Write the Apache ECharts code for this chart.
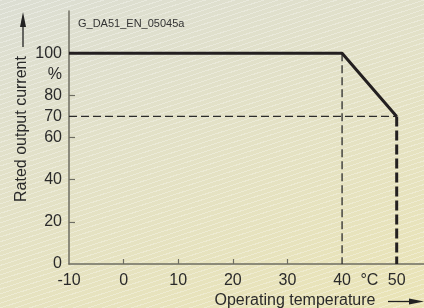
<!DOCTYPE html>
<html>
<head>
<meta charset="utf-8">
<script src="https://cdn.jsdelivr.net/npm/echarts@6/dist/echarts.min.js"></script>
<style>
  html, body { margin: 0; padding: 0; }
  #main {
    width: 424px; height: 308px;
    background:
      repeating-linear-gradient(162deg, rgba(255,255,255,0.3) 0 1px, transparent 1px 4.5px),
      linear-gradient(160deg, #dcded3 0%, #e3e1c6 45%, #eae4b6 100%);
  }
</style>
</head>
<body>
<div id="main"></div>
<script>
// derating curve: rated output current (%) vs operating temperature (°C)
var curveTemp = [-10, 40, 50];
var curveCurrent = [100, 100, 70];
// dashed helper lines
var guide40 = [[40, 100], [40, 0]];
var guide70 = [[-10, 70], [50, 70]];
var guide50 = [[50, 70], [50, 0]];
// axis labels / ticks
var xLabelValues = [-10, 0, 10, 20, 30, 40, 45, 50];
var xTickValues = [0, 10, 20, 30];
var yLabelValues = [0, 20, 40, 60, 70, 80, 90, 100];
var yTickValues = [20, 40, 60, 80];

var font = 'Liberation Sans, Arial, sans-serif';
var ink = '#231f20';

var chart = echarts.init(document.getElementById('main'));
chart.setOption({
  animation: false,
  textStyle: { fontFamily: font },
  title: {
    text: 'G_DA51_EN_05045a',
    left: 73, top: 13,
    textStyle: { fontSize: 11, fontWeight: 'normal', color: '#333', fontFamily: font }
  },
  grid: { left: 69, right: 0, top: 11, bottom: 44 },
  xAxis: {
    type: 'value', min: -10, max: 55,
    splitLine: { show: false },
    axisLine: { onZero: false, lineStyle: { color: '#6e6d62', width: 1.5 } },
    axisTick: { inside: true, length: 5, customValues: xTickValues, lineStyle: { color: '#6e6d62', width: 1.2 } },
    axisLabel: {
      customValues: xLabelValues, margin: 9, fontSize: 16, color: '#2a2a2a', fontFamily: font,
      formatter: function (v) { return v === 45 ? '°C' : String(v); }
    }
  },
  yAxis: {
    type: 'value', min: 0, max: 120,
    splitLine: { show: false },
    axisLine: { show: true, onZero: false, lineStyle: { color: '#6e6d62', width: 1.5 } },
    axisTick: { show: true, inside: true, length: 6, customValues: yTickValues, lineStyle: { color: '#6e6d62', width: 1.2 } },
    axisLabel: {
      customValues: yLabelValues, margin: 7, fontSize: 16, color: '#2a2a2a', fontFamily: font,
      formatter: function (v) { return v === 90 ? '%' : String(v); }
    }
  },
  series: [
    {
      type: 'line', symbol: 'none', z: 3,
      lineStyle: { color: ink, width: 3 },
      data: curveTemp.map(function (t, i) { return [t, curveCurrent[i]]; })
    },
    {
      type: 'line', symbol: 'none', z: 2,
      lineStyle: { color: '#2b2b2b', width: 1.3, type: [8, 4] },
      data: guide40
    },
    {
      type: 'line', symbol: 'none', z: 2,
      lineStyle: { color: '#2b2b2b', width: 1.3, type: [8, 4] },
      data: guide70
    },
    {
      type: 'line', symbol: 'none', z: 2,
      lineStyle: { color: ink, width: 3, type: [10, 4] },
      data: guide50
    }
  ],
  graphic: [
    {
      type: 'text', x: 22, y: 129, rotation: Math.PI / 2,
      style: { text: 'Rated output current', fontSize: 16, fontFamily: font, fill: '#2a2a2a', align: 'center', verticalAlign: 'middle' }
    },
    { type: 'line', shape: { x1: 23, y1: 47, x2: 23, y2: 22 }, style: { stroke: '#222', lineWidth: 1.3 } },
    { type: 'polygon', shape: { points: [[23, 12], [20, 27], [26, 27]] }, style: { fill: '#222' } },
    {
      type: 'text', x: 295, y: 301,
      style: { text: 'Operating temperature', fontSize: 16, fontFamily: font, fill: '#2a2a2a', align: 'center', verticalAlign: 'middle' }
    },
    { type: 'line', shape: { x1: 388, y1: 301.5, x2: 412, y2: 301.5 }, style: { stroke: '#222', lineWidth: 1.3 } },
    { type: 'polygon', shape: { points: [[424, 301.5], [409, 298.5], [409, 304.5]] }, style: { fill: '#222' } }
  ]
});
</script>
</body>
</html>
